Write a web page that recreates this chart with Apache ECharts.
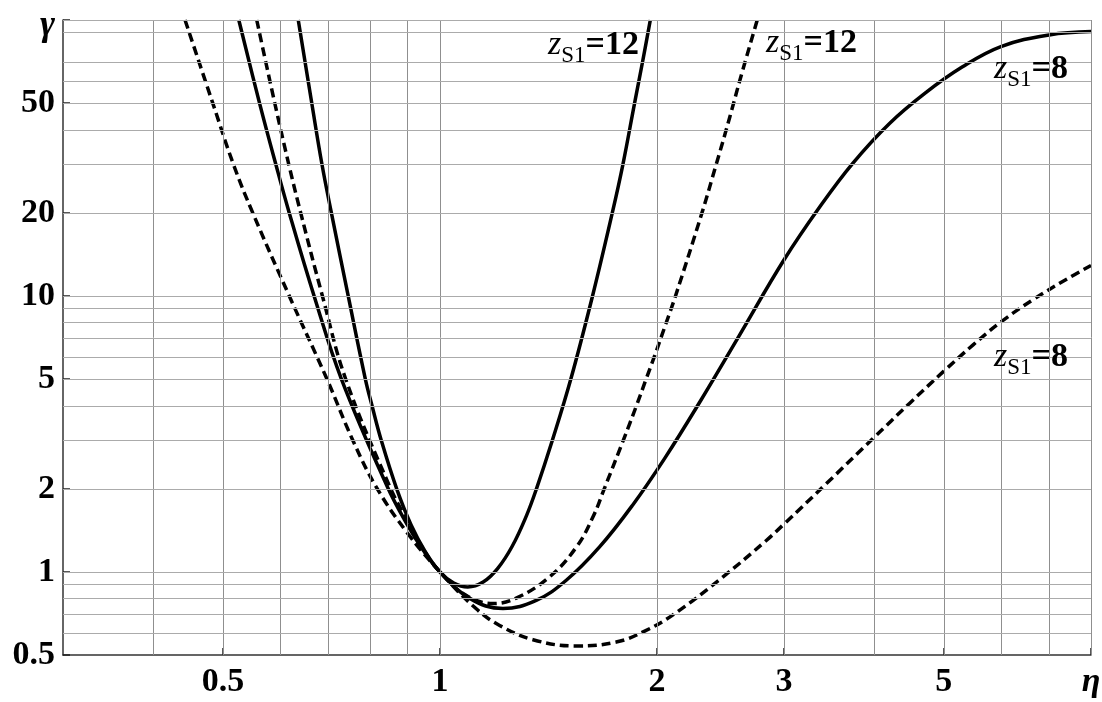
<!DOCTYPE html>
<html>
<head>
<meta charset="utf-8">
<script src="https://cdn.jsdelivr.net/npm/echarts@6/dist/echarts.min.js"></script>
<style>
  html, body { margin: 0; padding: 0; background: #fff; }
  #chart { width: 1102px; height: 702px; }
</style>
</head>
<body>
<div id="chart"></div>
<script>
// Axis ranges and tick / grid positions
const etaRange = [0.3, 8];
const gammaRange = [0.5, 100];
const etaTicks = [0.5, 1, 2, 3, 5, 8];
const gammaTicks = [0.5, 1, 2, 5, 10, 20, 50, 100];
const etaGrid = [0.4, 0.5, 0.6, 0.7, 0.8, 0.9, 1, 2, 3, 4, 5, 6, 7, 8];
const gammaGrid = [0.6, 0.7, 0.8, 0.9, 1, 2, 3, 4, 5, 6, 7, 8, 9, 10, 20, 30, 40, 50, 60, 70, 90, 100];

// z_S1 = 12, solid curve
const solid12Eta   = [0.636, 0.664, 0.686, 0.707, 0.746, 0.788, 0.805, 0.829, 0.871, 0.912, 0.955, 1.0, 1.045, 1.093, 1.148, 1.202, 1.259, 1.318, 1.361, 1.432, 1.519, 1.628, 1.734, 1.794, 1.862, 1.909, 1.958];
const solid12Gamma = [100, 50, 30, 20, 10, 5, 4, 3, 2, 1.48, 1.18, 1.0, 0.911, 0.882, 0.919, 1.028, 1.236, 1.597, 2, 3, 5, 10, 20, 30, 50, 70, 100];

// z_S1 = 12, dashed curve
const dashed12Eta   = [0.557, 0.590, 0.617, 0.641, 0.687, 0.740, 0.851, 0.9, 0.95, 1.0, 1.084, 1.184, 1.276, 1.419, 1.546, 1.63, 1.69, 1.796, 1.873, 1.932, 1.982, 2.06, 2.122, 2.309, 2.417, 2.495, 2.555, 2.604, 2.755];
const dashed12Gamma = [100, 50, 30, 20, 10, 5, 2.05, 1.54, 1.2, 1.0, 0.826, 0.768, 0.804, 0.959, 1.23, 1.58, 2.0, 3, 4, 5, 6, 8, 10, 20, 30, 40, 50, 60, 100];

// z_S1 = 8, solid curve
const solid8Eta   = [0.526, 0.562, 0.592, 0.618, 0.669, 0.730, 0.845, 0.9, 0.948, 1.0, 1.1, 1.223, 1.36, 1.497, 1.665, 1.85, 2.05, 2.3, 2.6, 3.0, 3.363, 3.74, 4.2, 4.7, 5.3, 6.0, 7.0, 8.0];
const solid8Gamma = [100, 50, 30, 20, 10, 5, 2.04, 1.49, 1.197, 1.0, 0.802, 0.737, 0.789, 0.933, 1.232, 1.745, 2.58, 4.18, 7.17, 13.5, 21.0, 30.3, 42.1, 54.1, 67.5, 80.1, 88.3, 90.8];

// z_S1 = 8, dashed curve
const dashed8Eta   = [0.443, 0.484, 0.517, 0.55, 0.618, 0.697, 0.757, 0.816, 0.9, 1.0, 1.123, 1.21, 1.346, 1.546, 1.756, 1.92, 2.105, 2.47, 2.836, 3.0, 3.436, 4.0, 4.48, 5.0, 5.49, 6.0, 6.65, 7.4, 8.0];
const dashed8Gamma = [100, 50, 30, 20, 10, 5, 3, 2.03, 1.39, 1.0, 0.735, 0.64, 0.568, 0.539, 0.557, 0.609, 0.699, 0.96, 1.30, 1.49, 2.09, 3.07, 4.08, 5.34, 6.65, 8.05, 9.7, 11.5, 12.9];

const zip = (xs, ys) => xs.map((x, i) => [x, ys[i]]);

const SERIF = '"Liberation Serif", "Times New Roman", serif';
const LABEL_SIZE = 34;

const chart = echarts.init(document.getElementById('chart'), null, { renderer: 'canvas' });

function curve(name, eta, gamma, dashed) {
  return {
    name, type: 'line', z: 3,
    data: zip(eta, gamma),
    showSymbol: false, smooth: 0.4, clip: true,
    lineStyle: { color: '#000', width: 3.5, type: dashed ? [9, 5] : 'solid', cap: 'butt', join: 'round' },
    animation: false, silent: true
  };
}

const labelRich = {
  z: { fontFamily: SERIF, fontStyle: 'italic', fontSize: LABEL_SIZE, lineHeight: LABEL_SIZE, color: '#000', verticalAlign: 'bottom', padding: [0, 0, 5, 0] },
  s: { fontFamily: SERIF, fontSize: 23, lineHeight: 23, color: '#000', verticalAlign: 'bottom' },
  n: { fontFamily: SERIF, fontWeight: 'bold', fontSize: LABEL_SIZE, lineHeight: LABEL_SIZE, color: '#000', verticalAlign: 'bottom', padding: [0, 0, 5, 0] }
};
function zLabel(x, y, value) {
  return {
    type: 'text', x, y, z: 10, silent: true,
    style: { text: '{z|z}{s|S1}{n|=' + value + '}', rich: labelRich }
  };
}

chart.setOption({
  animation: false,
  backgroundColor: '#fff',
  grid: { left: 63, right: 11, top: 20, bottom: 47, outerBoundsMode: 'none', containLabel: false },
  xAxis: {
    type: 'log', logBase: 10, min: etaRange[0], max: etaRange[1],
    axisLine: { show: true, onZero: false, lineStyle: { color: '#333', width: 1.5 } },
    axisTick: { show: true, inside: true, length: 7, customValues: etaTicks, lineStyle: { color: '#222', width: 1.5 } },
    splitLine: { show: false },
    minorTick: { show: false },
    axisLabel: {
      customValues: etaTicks, margin: 10, color: '#000',
      fontFamily: SERIF, fontWeight: 'bold', fontSize: LABEL_SIZE,
      formatter: v => (Math.abs(v - 8) < 1e-6 ? '{e|η}' : String(+v.toPrecision(3))),
      rich: { e: { fontFamily: SERIF, fontStyle: 'italic', fontWeight: 'bold', fontSize: LABEL_SIZE, color: '#000' } }
    }
  },
  yAxis: {
    type: 'log', logBase: 10, min: gammaRange[0], max: gammaRange[1],
    axisLine: { show: true, onZero: false, lineStyle: { color: '#333', width: 1.5 } },
    axisTick: { show: true, inside: true, length: 7, customValues: gammaTicks, lineStyle: { color: '#222', width: 1.5 } },
    splitLine: { show: false },
    minorTick: { show: false },
    axisLabel: {
      customValues: gammaTicks, margin: 8, color: '#000',
      fontFamily: SERIF, fontWeight: 'bold', fontSize: LABEL_SIZE,
      formatter: v => (Math.abs(v - 100) < 1e-6 ? '{g|γ}' : String(+v.toPrecision(3))),
      rich: { g: { fontFamily: SERIF, fontStyle: 'italic', fontWeight: 'bold', fontSize: 36, color: '#000', padding: [12, 0, 0, 0] } }
    }
  },
  series: [
    {
      // grid lines
      name: 'grid', type: 'line', z: 1, data: [], silent: true, animation: false,
      markLine: {
        silent: true, animation: false, symbol: ['none', 'none'], label: { show: false },
        data: [
          ...etaGrid.map(v => ({ xAxis: v, lineStyle: { color: '#8f8f8f', width: 1, type: 'solid' } })),
          ...gammaGrid.map(v => ({ yAxis: v, lineStyle: { color: '#ababab', width: 1, type: 'solid' } }))
        ]
      }
    },
    curve('zS1=12 solid', solid12Eta, solid12Gamma, false),
    curve('zS1=12 dashed', dashed12Eta, dashed12Gamma, true),
    curve('zS1=8 solid', solid8Eta, solid8Gamma, false),
    curve('zS1=8 dashed', dashed8Eta, dashed8Gamma, true)
  ],
  graphic: [
    zLabel(548, 33, '12'),
    zLabel(766, 31, '12'),
    zLabel(994, 57, '8'),
    zLabel(994, 345, '8')
  ]
});
</script>
</body>
</html>
